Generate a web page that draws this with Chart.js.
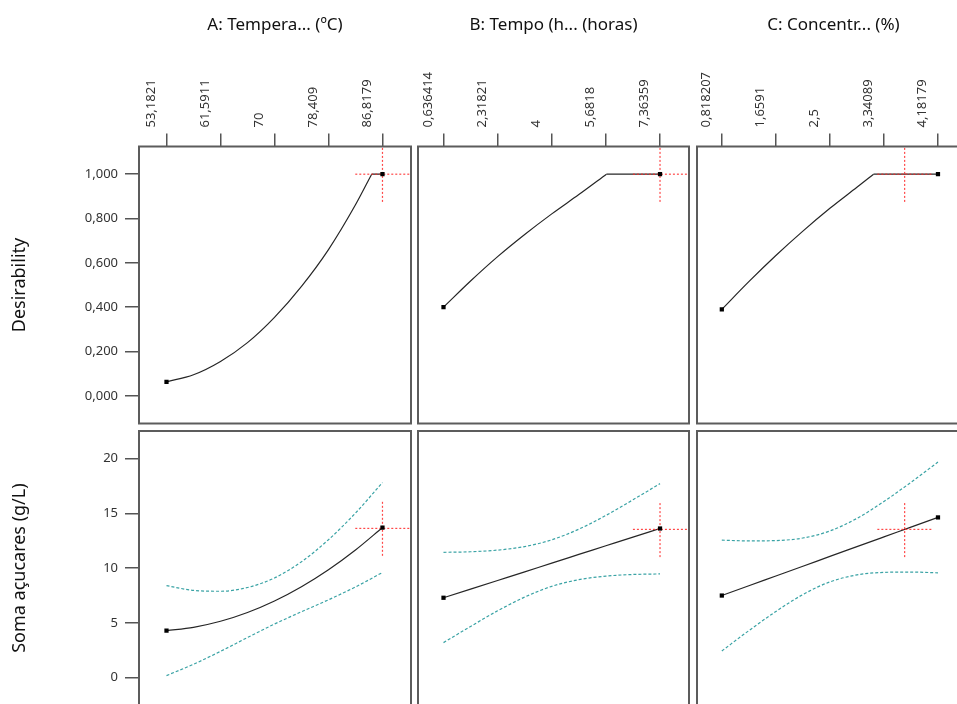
<!DOCTYPE html>
<html>
<head>
<meta charset="utf-8">
<script src="https://cdn.jsdelivr.net/npm/chart.js@4.4.1/dist/chart.umd.min.js"></script>
<style>
  html, body { margin: 0; padding: 0; background: #fff; overflow: hidden; width: 957px; height: 704px; }
  canvas { position: absolute; left: 0; top: 0; }
</style>
</head>
<body>
<canvas id="c00" width="1000" height="720"></canvas>
<canvas id="c01" width="1000" height="720"></canvas>
<canvas id="c02" width="1000" height="720"></canvas>
<canvas id="c10" width="1000" height="720"></canvas>
<canvas id="c11" width="1000" height="720"></canvas>
<canvas id="c12" width="1000" height="720"></canvas>
<script>
// --- axis labels / ticks ---
const factorNames = ['A: Tempera... (ºC)', 'B: Tempo (h... (horas)', 'C: Concentr... (%)'];
const responseNames = ['Desirability', 'Soma açucares (g/L)'];

const ticksA = [53.1821, 61.5911, 70, 78.409, 86.8179];
const tickLabelsA = ['53,1821', '61,5911', '70', '78,409', '86,8179'];
const ticksB = [0.636414, 2.31821, 4, 5.6818, 7.36359];
const tickLabelsB = ['0,636414', '2,31821', '4', '5,6818', '7,36359'];
const ticksC = [0.818207, 1.6591, 2.5, 3.34089, 4.18179];
const tickLabelsC = ['0,818207', '1,6591', '2,5', '3,34089', '4,18179'];

const desTicks = [0, 0.2, 0.4, 0.6, 0.8, 1];
const desTickLabels = ['0,000', '0,200', '0,400', '0,600', '0,800', '1,000'];
const somaTicks = [0, 5, 10, 15, 20];
const somaTickLabels = ['0', '5', '10', '15', '20'];

// axis ranges
const xRanges = [[48.9, 91.26], [-0.156, 8.264], [0.432, 4.68]];
const yRanges = [[-0.125, 1.125], [-2.5, 22.5]];

// current factor settings (red crosshair)
const current = [86.8179, 7.36359, 3.663];
const currentDes = 1.0;
const currentSoma = 13.62;

// --- A: Temperatura ---
const xA = [53.1821, 57.3866, 61.5911, 65.7955, 70, 74.2045, 78.409, 82.6134, 86.8179];
const somaA = [4.3, 4.6, 5.15, 5.95, 7.0, 8.3, 9.85, 11.65, 13.7];
const somaA_hi = [8.4, 7.97, 7.89, 8.23, 9.1, 10.58, 12.59, 15.02, 17.8];
const somaA_lo = [0.2, 1.23, 2.41, 3.67, 4.9, 6.02, 7.11, 8.28, 9.6];
const desA_x = [53.1821, 57.3866, 61.5911, 65.7955, 70, 74.2045, 78.409, 82.6134, 85.13, 86.8179];
const desA = [0.063, 0.095, 0.155, 0.24, 0.354, 0.494, 0.66, 0.862, 1.0, 1.0];

// --- B: Tempo ---
const xB = [0.636414, 1.47731, 2.31821, 3.1591, 4, 4.8409, 5.6818, 6.52269, 7.36359];
const somaB = [7.45, 8.23, 9.01, 9.79, 10.58, 11.36, 12.14, 12.92, 13.7];
const somaB_hi = [11.55, 11.6, 11.75, 12.07, 12.68, 13.64, 14.88, 16.29, 17.75];
const somaB_lo = [3.4, 4.86, 6.27, 7.51, 8.48, 9.08, 9.4, 9.55, 9.6];
const desB_x = [0.636414, 1.47731, 2.31821, 3.1591, 4, 4.8409, 5.70, 7.36359];
const desB = [0.40, 0.518, 0.628, 0.728, 0.821, 0.908, 1.0, 1.0];

// --- C: Concentracao ---
const xC = [0.818207, 1.23866, 1.6591, 2.07955, 2.5, 2.92045, 3.34089, 3.76134, 4.18179];
const somaC = [7.65, 8.53, 9.41, 10.29, 11.18, 12.06, 12.94, 13.82, 14.7];
const somaC_hi = [12.65, 12.58, 12.61, 12.84, 13.48, 14.61, 16.14, 17.87, 19.7];
const somaC_lo = [2.65, 4.48, 6.21, 7.74, 8.88, 9.51, 9.74, 9.77, 9.7];
const desC_x = [0.818207, 1.23866, 1.6591, 2.07955, 2.5, 2.92045, 3.18, 4.18179];
const desC = [0.39, 0.515, 0.633, 0.743, 0.846, 0.941, 1.0, 1.0];

const xTicks = [ticksA, ticksB, ticksC];
const xTickLabels = [tickLabelsA, tickLabelsB, tickLabelsC];

// page geometry
const W = 1000, H = 720;
const colLeft = [139, 418, 697], colRight = [411, 689, 970];
const rowTop = [146.5, 431], rowBottom = [423.5, 708];
const FONT = "'Noto Sans', 'Open Sans', sans-serif";

function pts(xs, ys) { return xs.map((x, i) => ({ x: x, y: ys[i] })); }

// desirability curve goes up then stays at 1: split so the corner stays sharp
function splitPlateau(xs, ys) {
  const k = ys.indexOf(1);
  return [pts(xs.slice(0, k + 1), ys.slice(0, k + 1)), pts(xs.slice(k), ys.slice(k))];
}

const framePlugin = {
  id: 'frame',
  beforeDatasetsDraw(chart) {
    const { ctx, chartArea: a } = chart;
    ctx.save();
    ctx.strokeStyle = '#5c5c5c';
    ctx.lineWidth = 2;
    ctx.strokeRect(a.left, a.top, a.right - a.left, a.bottom - a.top);
    ctx.restore();
  }
};

function panel(id, col, row, mainLines, ciLines) {
  const xr = xRanges[col], yr = yRanges[row];
  const dx = (xr[1] - xr[0]) * 0.1, dy = (yr[1] - yr[0]) * 0.1;
  const cx = current[col], cy = row === 0 ? currentDes : currentSoma;
  const first = mainLines[0][0];
  const lastLine = mainLines[mainLines.length - 1];
  const last = lastLine[lastLine.length - 1];
  const showX = row === 0, showY = col === 0;

  const datasets = [];
  datasets.push({ data: [first, last], showLine: false, pointStyle: 'rect', pointRadius: 3,
    backgroundColor: '#000', borderColor: '#000', borderWidth: 0, order: 0 });
  const red = { showLine: true, pointRadius: 0, borderColor: 'rgba(255,40,40,0.85)', borderWidth: 1.2,
    borderDash: [2, 2], order: 1 };
  datasets.push(Object.assign({ data: [{ x: cx - dx, y: cy }, { x: cx + dx, y: cy }] }, red));
  datasets.push(Object.assign({ data: [{ x: cx, y: cy - dy }, { x: cx, y: cy + dy }] }, red));
  mainLines.forEach(d => datasets.push({ data: d, showLine: true, pointRadius: 0, borderColor: '#262626',
    borderWidth: 1.2, cubicInterpolationMode: 'monotone', order: 2 }));
  ciLines.forEach(d => datasets.push({ data: d, showLine: true, pointRadius: 0, borderColor: '#3aa3a5',
    borderWidth: 1.2, borderDash: [3, 2], cubicInterpolationMode: 'monotone', order: 3 }));

  const yT = row === 0 ? desTicks : somaTicks;
  const yL = row === 0 ? desTickLabels : somaTickLabels;

  new Chart(document.getElementById(id), {
    type: 'line',
    data: { datasets: datasets },
    plugins: [framePlugin],
    options: {
      responsive: false,
      animation: false,
      devicePixelRatio: 1,
      events: [],
      layout: { padding: {
        left: showY ? 0 : colLeft[col],
        top: showX ? 0 : rowTop[row],
        right: W - colRight[col],
        bottom: H - rowBottom[row]
      } },
      plugins: { legend: { display: false }, tooltip: { enabled: false } },
      scales: {
        x: {
          type: 'linear', position: 'top', min: xr[0], max: xr[1],
          display: showX,
          afterBuildTicks: s => { s.ticks = xTicks[col].map(v => ({ value: v })); },
          afterFit: s => { if (showX) s.height = rowTop[0]; },
          ticks: { autoSkip: false, minRotation: 90, maxRotation: 90, padding: 6, color: '#333',
            font: { family: FONT, size: 13 }, callback: (v, i) => xTickLabels[col][i] },
          grid: { drawOnChartArea: false, drawTicks: true, tickLength: 13, color: '#555', lineWidth: 1.5 },
          border: { display: false },
          title: { display: true, text: factorNames[col], color: '#111',
            font: { family: FONT, size: 17 }, padding: { top: 15, bottom: 0 } }
        },
        y: {
          type: 'linear', min: yr[0], max: yr[1],
          display: showY,
          afterBuildTicks: s => { s.ticks = yT.map(v => ({ value: v })); },
          afterFit: s => { if (showY) s.width = colLeft[0]; },
          ticks: { padding: 7, color: '#333', font: { family: FONT, size: 13 },
            callback: (v, i) => yL[i] },
          grid: { drawOnChartArea: false, drawTicks: true, tickLength: 14, color: '#555', lineWidth: 1.5 },
          border: { display: false },
          title: { display: true, text: responseNames[row], color: '#111',
            font: { family: FONT, size: 18 }, padding: { top: 9, bottom: 0 } }
        }
      }
    }
  });
}

panel('c00', 0, 0, splitPlateau(desA_x, desA), []);
panel('c01', 1, 0, splitPlateau(desB_x, desB), []);
panel('c02', 2, 0, splitPlateau(desC_x, desC), []);
panel('c10', 0, 1, [pts(xA, somaA)], [pts(xA, somaA_hi), pts(xA, somaA_lo)]);
panel('c11', 1, 1, [pts(xB, somaB)], [pts(xB, somaB_hi), pts(xB, somaB_lo)]);
panel('c12', 2, 1, [pts(xC, somaC)], [pts(xC, somaC_hi), pts(xC, somaC_lo)]);
</script>
</body>
</html>
